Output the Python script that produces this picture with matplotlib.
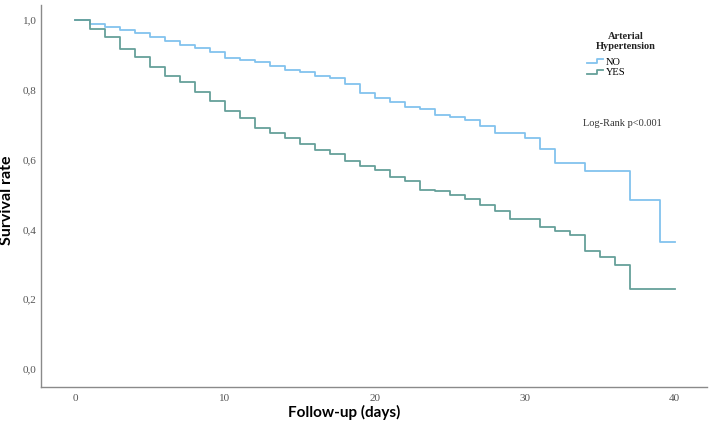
import matplotlib
matplotlib.use("Agg")
import matplotlib.pyplot as plt
from matplotlib.lines import Line2D
from matplotlib.legend_handler import HandlerBase
from matplotlib.ticker import FuncFormatter

# Kaplan-Meier step values
days_no = [0, 1, 2, 3, 4, 5, 6, 7, 8, 9, 10, 11, 12, 13, 14, 15, 16, 17, 18, 19,
           20, 21, 22, 23, 24, 25, 26, 27, 28, 30, 31, 32, 34, 37, 39, 40]
surv_no = [1.0, 0.988, 0.980, 0.971, 0.964, 0.952, 0.941, 0.929, 0.919, 0.907,
           0.891, 0.885, 0.881, 0.869, 0.858, 0.850, 0.841, 0.834, 0.817, 0.790,
           0.777, 0.765, 0.751, 0.746, 0.728, 0.721, 0.713, 0.696, 0.675, 0.662,
           0.630, 0.591, 0.566, 0.484, 0.365, 0.365]

days_yes = [0, 1, 2, 3, 4, 5, 6, 7, 8, 9, 10, 11, 12, 13, 14, 15, 16, 17, 18, 19,
            20, 21, 22, 23, 24, 25, 26, 27, 28, 29, 31, 32, 33, 34, 35, 36, 37, 40]
surv_yes = [1.0, 0.975, 0.952, 0.918, 0.895, 0.864, 0.840, 0.822, 0.794, 0.769,
            0.740, 0.719, 0.691, 0.677, 0.661, 0.646, 0.627, 0.616, 0.597, 0.582,
            0.570, 0.549, 0.538, 0.513, 0.509, 0.497, 0.488, 0.469, 0.452, 0.431,
            0.406, 0.394, 0.384, 0.337, 0.320, 0.298, 0.229, 0.229]

groups = ["NO", "YES"]
colors = ["#82c3ee", "#66a09a"]
x_ticks = [0, 10, 20, 30, 40]
y_ticks = [0.0, 0.2, 0.4, 0.6, 0.8, 1.0]

serif = "Liberation Serif"


class StepHandler(HandlerBase):
    # little step icon like in the SPSS legend
    def create_artists(self, legend, orig_handle, xdescent, ydescent,
                       width, height, fontsize, trans):
        x0 = -xdescent
        xm = x0 + width * 0.6
        lo = -ydescent + height * 0.2
        hi = -ydescent + height * 0.75
        ln = Line2D([x0, xm, xm, x0 + width], [lo, lo, hi, hi],
                    color=orig_handle.get_color(), lw=orig_handle.get_linewidth(),
                    transform=trans)
        return [ln]


fig = plt.figure(figsize=(7.09, 4.22), dpi=100)
ax = fig.add_axes([0.0578, 0.083, 0.939, 0.905])

lines = []
for d, s, c, g in zip([days_no, days_yes], [surv_no, surv_yes], colors, groups):
    ln, = ax.step(d, s, where="post", color=c, lw=1.3, label=g)
    lines.append(ln)

ax.set_xlim(-2.27, 42.13)
ax.set_ylim(-0.052, 1.043)
ax.set_xticks(x_ticks)
ax.set_yticks(y_ticks)
ax.yaxis.set_major_formatter(FuncFormatter(lambda v, p: f"{v:.1f}".replace(".", ",")))

for sp in ["top", "right"]:
    ax.spines[sp].set_visible(False)
for sp in ["left", "bottom"]:
    ax.spines[sp].set_color("#8a8a8a")
    ax.spines[sp].set_linewidth(1.0)

ax.tick_params(length=0, labelsize=8, labelcolor="#555555")
ax.tick_params(axis="x", pad=5)
ax.tick_params(axis="y", pad=3)
for lab in ax.get_xticklabels() + ax.get_yticklabels():
    lab.set_fontfamily(serif)

ax.set_xlabel("Follow-up (days)", fontfamily="Lato", fontweight="bold", fontsize=11)
ax.set_ylabel("Survival rate", fontfamily="Lato", fontweight="bold", fontsize=11.5)
ax.xaxis.set_label_coords(0.456, -0.047)
ax.yaxis.set_label_coords(-0.040, 0.49)

ax.text(0.878, 0.929, "Arterial\nHypertension", transform=ax.transAxes,
        ha="center", va="top", fontfamily=serif, fontweight="bold",
        fontsize=7.5, linespacing=1.1, color="#222222")

ax.legend(handles=lines, loc="upper left", bbox_to_anchor=(0.812, 0.876),
          frameon=False, prop={"family": serif, "size": 7.5},
          handler_map={Line2D: StepHandler()}, handlelength=1.6,
          handletextpad=0.25, labelspacing=0.12, borderpad=0.0)

ax.text(0.814, 0.691, "Log-Rank p<0.001", transform=ax.transAxes,
        ha="left", va="center", fontfamily=serif, fontsize=7.5, color="#333333")

fig.savefig("out.png", dpi=100)
